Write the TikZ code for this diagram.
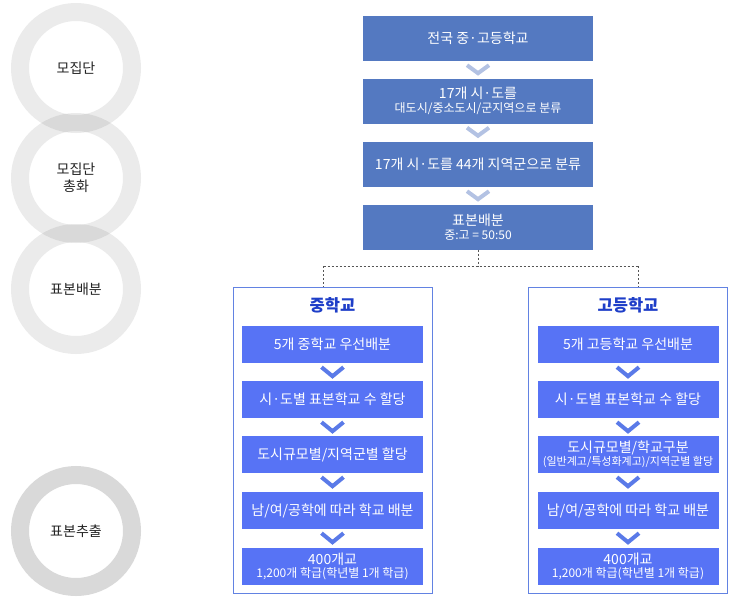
\documentclass[tikz,border=0pt]{standalone}
\usepackage{fontspec}
\setmainfont{Noto Sans CJK KR}
\definecolor{bleuA}{HTML}{5479C1}
\definecolor{bleuB}{HTML}{5773F5}
\definecolor{bleuC}{HTML}{6282E2}
\definecolor{bleuT}{HTML}{1E3EC8}
\definecolor{chevA}{HTML}{B3C2E3}
\definecolor{chevB}{HTML}{5A7AE8}
\definecolor{gris}{HTML}{222222}
\definecolor{trait}{HTML}{555555}
\newcommand{\petit}{\fontsize{12}{14}\selectfont}
\newcommand{\tpetit}{\fontsize{11}{13}\selectfont}
\begin{document}
\begin{tikzpicture}[x=1pt,y=-1pt]
			% Styles (MODIFIABLES)
			\tikzstyle{cercle}=[circle, draw=black, draw opacity=0.08, line width=18pt, minimum size=112pt, inner sep=0pt, align=center, text=gris, font=\fontsize{14}{17}\selectfont]
			\tikzstyle{cerclefonce}=[cercle, draw opacity=0.15]
			\tikzstyle{etape}=[fill=bleuA, text=white, minimum width=230pt, minimum height=45pt, inner sep=0pt, align=center, font=\fontsize{14}{16}\selectfont]
			\tikzstyle{sousetape}=[fill=bleuB, text=white, minimum width=181pt, minimum height=37pt, inner sep=0pt, align=center, font=\fontsize{14}{16}\selectfont]
			\tikzstyle{cadre}=[draw=bleuC, line width=1pt, minimum width=199pt, minimum height=306pt, inner sep=0pt]
			\tikzstyle{titre}=[text=bleuT, font=\fontsize{16.5}{19}\selectfont\bfseries]
			\tikzstyle{chevronA}=[draw=chevA, line width=4pt]
			\tikzstyle{chevronB}=[draw=chevB, line width=4pt]
			\tikzstyle{pointille}=[draw=trait, line width=0.8pt, dash pattern=on 2pt off 2pt]
			% Colonnes (MODIFIABLES)
			\def\ColonneCercles{76}
			\def\ColonneHaut{478}
			\def\ColonneGauche{332.5}
			\def\ColonneDroite{628}
			\useasboundingbox (0,0) rectangle (730,611);
			% Cercles
			\node[cercle] (C1) at (\ColonneCercles,68) {모집단};
			\node[cercle] (C2) at (\ColonneCercles,178) {모집단\\총화};
			\node[cercle] (C3) at (\ColonneCercles,289) {표본배분};
			\node[cerclefonce] (C4) at (\ColonneCercles,531) {표본추출};
			% Etapes du haut
			\node[etape] (H1) at (\ColonneHaut,38.5) {전국 중·고등학교};
			\node[etape] (H2) at (\ColonneHaut,101) {17개 시·도를\\[-2pt]{\petit 대도시/중소도시/군지역으로 분류}};
			\node[etape] (H3) at (\ColonneHaut,164.5) {17개 시·도를 44개 지역군으로 분류};
			\node[etape] (H4) at (\ColonneHaut,227) {표본배분\\[-2pt]{\petit 중:고 = 50:50}};
			% Cadres
			\node[cadre] (G) at (\ColonneGauche,440) {};
			\node[cadre] (D) at (\ColonneDroite,440) {};
			\node[titre] (Gt) at (\ColonneGauche,305) {중학교};
			\node[titre] (Dt) at (\ColonneDroite,305) {고등학교};
			% Etapes du cadre gauche
			\node[sousetape] (G1) at (\ColonneGauche,344.5) {5개 중학교 우선배분};
			\node[sousetape] (G2) at (\ColonneGauche,399.5) {시·도별 표본학교 수 할당};
			\node[sousetape] (G3) at (\ColonneGauche,454.5) {도시규모별/지역군별 할당};
			\node[sousetape] (G4) at (\ColonneGauche,510.5) {남/여/공학에 따라 학교 배분};
			\node[sousetape] (G5) at (\ColonneGauche,566.5) {400개교\\[-3pt]{\petit 1,200개 학급(학년별 1개 학급)}};
			% Etapes du cadre droit
			\node[sousetape] (D1) at (\ColonneDroite,344.5) {5개 고등학교 우선배분};
			\node[sousetape] (D2) at (\ColonneDroite,399.5) {시·도별 표본학교 수 할당};
			\node[sousetape] (D3) at (\ColonneDroite,454.5) {도시규모별/학교구분\\[-3pt]{\tpetit (일반계고/특성화계고)/지역군별 할당}};
			\node[sousetape] (D4) at (\ColonneDroite,510.5) {남/여/공학에 따라 학교 배분};
			\node[sousetape] (D5) at (\ColonneDroite,566.5) {400개교\\[-3pt]{\petit 1,200개 학급(학년별 1개 학급)}};
			% Embranchement
			\coordinate (E) at (\ColonneHaut,266);
			\coordinate (EG) at (323.5,266);
			\coordinate (ED) at (638.5,266);
			\draw[pointille] (H4.south) -- (E);
			\draw[pointille] (EG) -- (ED);
			\draw[pointille] (EG) -- (EG |- G.north);
			\draw[pointille] (ED) -- (ED |- D.north);
			% Chevrons
			\foreach \a in {H1,H2,H3}
				\draw[chevronA] (\a.south) ++(-11,4) -- ++(11,8) -- ++(11,-8);
			\foreach \a in {G1,G2,G3,G4,D1,D2,D3,D4}
				\draw[chevronB] (\a.south) ++(-11,4) -- ++(11,9) -- ++(11,-9);
\end{tikzpicture}
\end{document}
